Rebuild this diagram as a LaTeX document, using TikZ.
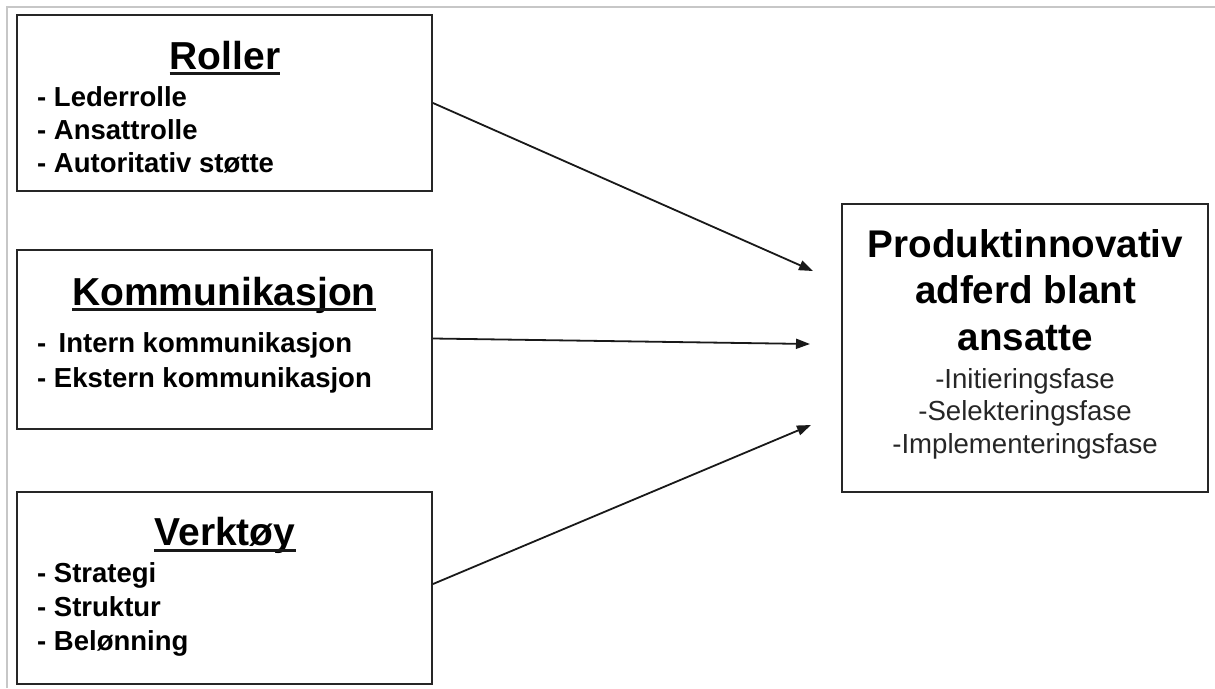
\documentclass[tikz,border=0pt]{standalone}
\usepackage{fontspec}
\setmainfont{Liberation Sans}
\usetikzlibrary{arrows.meta}
\tikzset{
  box/.style={draw=black!85, line width=2pt, rectangle, inner sep=0pt, minimum width=415pt},
  heading/.style={font=\bfseries\fontsize{39}{45}\selectfont, anchor=base, inner sep=0pt},
  item/.style={font=\bfseries\fontsize{27.5}{33}\selectfont, anchor=base west, inner sep=0pt},
  bigtitle/.style={font=\bfseries\fontsize{38.6}{46}\selectfont, anchor=base, inner sep=0pt},
  phase/.style={font=\fontsize{27.6}{32}\selectfont, anchor=base, inner sep=0pt, text=black!85},
  conn/.style={line width=1.8pt, black!90, -{Triangle[length=14pt,width=10pt]}},
  uline/.style={line width=3pt, black!90},
  frame/.style={draw=black!22, line width=1.5pt}
}
\begin{document}
\begin{tikzpicture}[x=1pt,y=-1pt]
\useasboundingbox (0,0) rectangle (1215,688);
\fill[white] (0,0) rectangle (1215,688);
\draw[frame] (7,688) -- (7,7) -- (1215,7);

% boxes
\node[box, minimum height=176pt] (roller) at (224.5,103) {};
\node[box, minimum height=179pt] (komm) at (224.5,339.5) {};
\node[box, minimum height=192pt] (verk) at (224.5,588) {};
\node[box, minimum width=366pt, minimum height=288pt] (res) at (1025,348) {};

% Roller
\node[heading] (hroller) at (225,69) {Roller};
\draw[uline] ([yshift=-4pt]hroller.base west) -- ([yshift=-4pt]hroller.base east);
\node[item] (r1) at (37,106) {- Lederrolle};
\node[item] (r2) at (37,139) {- Ansattrolle};
\node[item] (r3) at (37,172) {- Autoritativ støtte};

% Kommunikasjon
\node[heading] (hkomm) at (224,305) {Kommunikasjon};
\draw[uline] ([yshift=-4pt]hkomm.base west) -- ([yshift=-4pt]hkomm.base east);
\node[item] (k1) at (37,352) {-\hspace{0.45em}Intern kommunikasjon};
\node[item] (k2) at (37,387) {- Ekstern kommunikasjon};

% Verktøy
\node[heading] (hverk) at (225,545) {Verktøy};
\draw[uline] ([yshift=-5pt]hverk.base west) -- ([yshift=-5pt]hverk.base east);
\node[item] (v1) at (37,582) {- Strategi};
\node[item] (v2) at (37,616) {- Struktur};
\node[item] (v3) at (37,650) {- Belønning};

% Result box text
\node[bigtitle] (t1) at (1025.5,257) {Produktinnovativ};
\node[bigtitle] (t2) at (1025.5,303) {adferd blant};
\node[bigtitle] (t3) at (1025.5,350) {ansatte};
\node[phase] (p1) at (1025,388) {-Initieringsfase};
\node[phase] (p2) at (1025,420.5) {-Selekteringsfase};
\node[phase] (p3) at (1025,453) {-Implementeringsfase};

% connectors
\coordinate (e1) at (813,271);
\coordinate (e2) at (810,344);
\coordinate (e3) at (811,425);
\draw[conn] (roller.east) -- (e1);
\draw[conn] ([yshift=1pt]komm.east) -- (e2);
\draw[conn] ([yshift=4pt]verk.east) -- (e3);
\end{tikzpicture}
\end{document}
